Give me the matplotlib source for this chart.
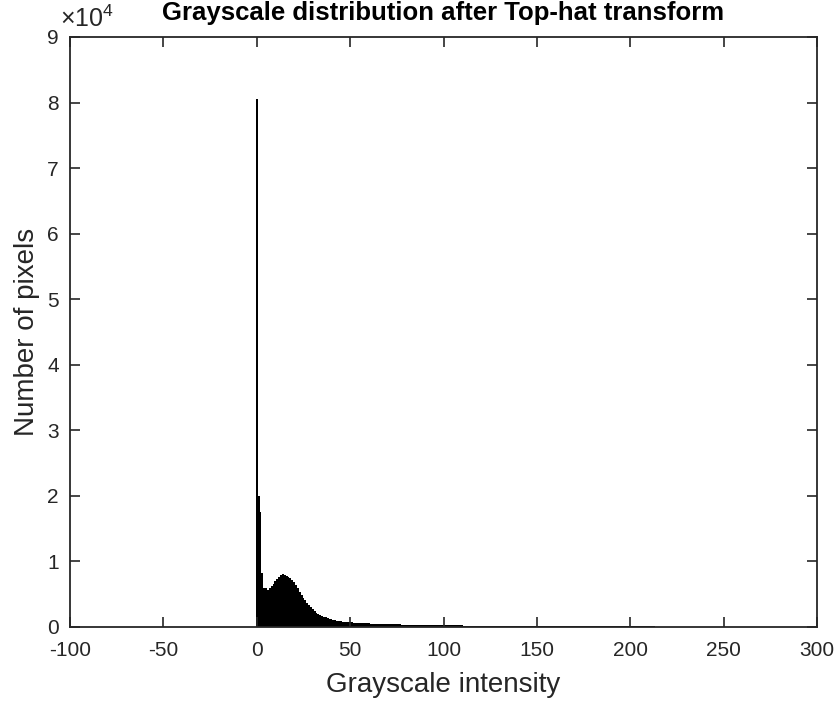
import matplotlib.pyplot as plt
import numpy as np
from matplotlib.ticker import FuncFormatter

# Histogramm-Werte (Grauwert 0..255)
counts_0_50 = [80500, 20000, 17500, 8200, 6000, 5900, 5700, 5900, 6200, 6600,
               7000, 7300, 7600, 7900, 8100, 8000, 7800, 7600, 7400, 7200,
               6800, 6400, 5900, 5400, 4900, 4500, 4100, 3700, 3300, 3000,
               2700, 2450, 2200, 2000, 1850, 1700, 1550, 1450, 1350, 1250,
               1150, 1080, 1020, 960, 910, 870, 830, 800, 770, 740,
               710]
counts_51_100 = [690, 670, 650, 630, 615, 600, 585, 570, 555, 540,
                 530, 520, 510, 500, 490, 480, 470, 460, 450, 440,
                 432, 424, 416, 408, 400, 392, 385, 378, 371, 364,
                 357, 350, 344, 338, 332, 326, 320, 315, 310, 305,
                 300, 295, 290, 285, 280, 276, 272, 268, 264, 260]
counts_101_150 = [256, 253, 250, 247, 244, 241, 238, 236, 233, 231,
                  228, 226, 224, 221, 219, 217, 215, 213, 211, 209,
                  207, 205, 203, 201, 200, 198, 196, 195, 193, 192,
                  190, 189, 188, 186, 185, 184, 183, 182, 181, 180,
                  178, 177, 176, 175, 174, 172, 171, 170, 169, 168]
counts_151_200 = [167, 166, 165, 164, 162, 161, 160, 159, 158, 156,
                  155, 154, 152, 151, 150, 148, 147, 145, 144, 142,
                  141, 139, 138, 136, 135, 133, 132, 130, 129, 127,
                  126, 124, 123, 121, 120, 118, 117, 115, 114, 112,
                  111, 109, 108, 106, 105, 103, 102, 100, 99, 97]
counts_201_255 = [96, 94, 93, 91, 90, 88, 87, 85, 84, 82,
                  81, 79, 78, 76, 75, 73, 72, 70, 69, 67,
                  66, 64, 63, 61, 60, 58, 57, 55, 54, 52,
                  51, 50, 48, 47, 46, 44, 43, 42, 40, 39,
                  38, 36, 35, 34, 33, 31, 30, 29, 28, 27,
                  26, 25, 24, 23, 40]

counts = np.array(counts_0_50 + counts_51_100 + counts_101_150
                  + counts_151_200 + counts_201_255)
levels = np.arange(len(counts))

x_ticks = [-100, -50, 0, 50, 100, 150, 200, 250, 300]
y_ticks = [0, 1e4, 2e4, 3e4, 4e4, 5e4, 6e4, 7e4, 8e4, 9e4]

plt.rcParams['font.family'] = ['Liberation Sans', 'DejaVu Sans']
plt.rcParams['axes.unicode_minus'] = False
plt.rcParams['mathtext.fontset'] = 'custom'
plt.rcParams['mathtext.rm'] = 'Liberation Sans'
plt.rcParams['mathtext.it'] = 'Liberation Sans:italic'
dark = '#262626'

fig = plt.figure(figsize=(8.38, 7.04), dpi=100)
ax = fig.add_axes([70 / 838, 77 / 704, 747 / 838, 590 / 704])

ax.bar(levels, counts, width=1.0, color='black', linewidth=0)

ax.set_xlim(-100, 300)
ax.set_ylim(0, 9e4)
ax.set_xticks(x_ticks)
ax.set_yticks(y_ticks)
ax.yaxis.set_major_formatter(FuncFormatter(lambda v, p: f'{v / 1e4:g}'))

for s in ax.spines.values():
    s.set_color(dark)
    s.set_linewidth(1.3)
ax.tick_params(direction='in', top=True, right=True, length=7, width=1.2,
               colors=dark, labelsize=15, labelcolor=dark)
ax.tick_params(axis='x', pad=10)
ax.tick_params(axis='y', pad=8)

ax.set_xlabel('Grayscale intensity', fontsize=20, color=dark, labelpad=9)
ax.set_ylabel('Number of pixels', fontsize=20, color=dark, labelpad=5)
ax.set_title('Grayscale distribution after Top-hat transform',
             fontsize=18.5, fontweight='bold', color='black', pad=12)
ax.text(-0.014, 1.008, r'$\times10^4$', transform=ax.transAxes, fontsize=18,
        color=dark, ha='left', va='bottom')

fig.savefig('out.png', dpi=100)
